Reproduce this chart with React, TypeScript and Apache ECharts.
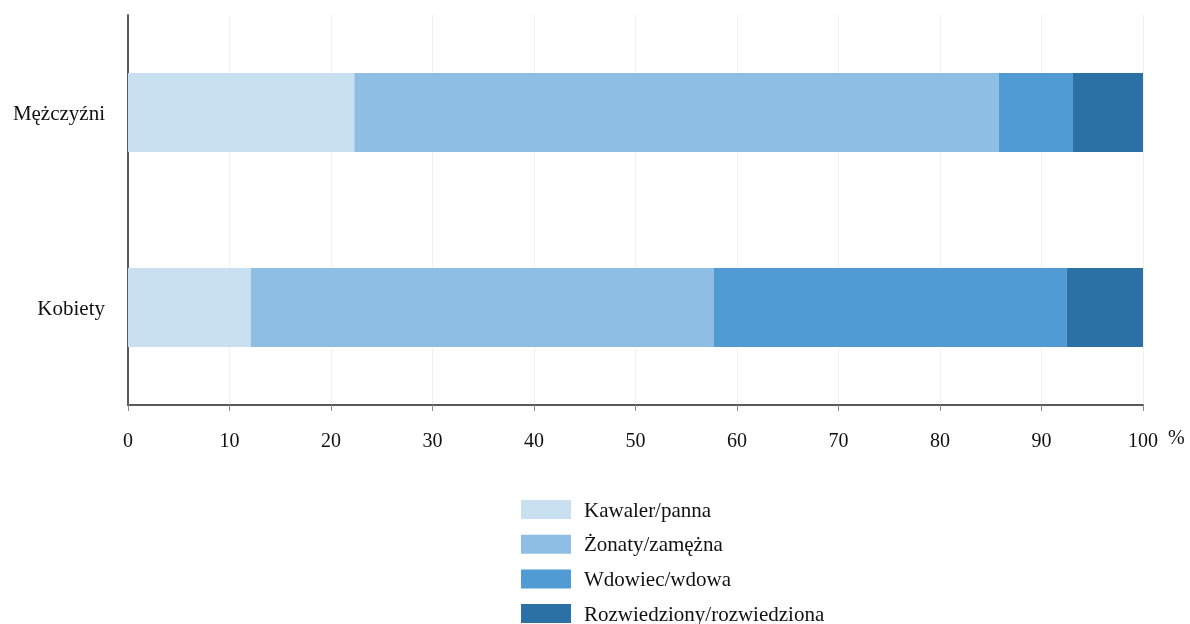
import React, { useEffect, useRef } from "react";
import * as echarts from "echarts";

const categories = ["Kobiety", "Mężczyźni"];
const seriesNames = ["Kawaler/panna", "Żonaty/zamężna", "Wdowiec/wdowa", "Rozwiedziony/rozwiedziona"];
const kawaler = [12.1, 22.3];
const zonaty = [45.6, 63.5];
const wdowiec = [34.8, 7.3];
const rozwiedziony = [7.5, 6.9];
const colors = ["#c9e0f0", "#8ebee3", "#509bd3", "#2b71a6"];
const xTicks = { min: 0, max: 100, interval: 10 };

const FONT = "'Liberation Serif', 'Times New Roman', serif";

export default function App() {
  const ref = useRef<HTMLDivElement>(null);
  useEffect(() => {
    const chart = echarts.init(ref.current!, undefined, { renderer: "svg" });
    const values = [kawaler, zonaty, wdowiec, rozwiedziony];
    chart.setOption({
      animation: false,
      grid: { left: 128, right: 47, top: 15, bottom: 219, containLabel: false },
      xAxis: {
        type: "value",
        min: xTicks.min,
        max: xTicks.max,
        interval: xTicks.interval,
        axisLine: { show: true, lineStyle: { color: "#5a5a5a", width: 2 } },
        axisTick: { show: true, length: 6, lineStyle: { color: "#8a8a8a", width: 1 } },
        axisLabel: { margin: 25, color: "#111", fontFamily: FONT, fontSize: 20 },
        splitLine: { show: true, lineStyle: { color: "#f1f1f1", width: 1 } },
      },
      yAxis: {
        type: "category",
        data: categories,
        axisLine: { show: true, lineStyle: { color: "#5a5a5a", width: 2 } },
        axisTick: { show: false },
        axisLabel: { margin: 23, color: "#111", fontFamily: FONT, fontSize: 21 },
        splitLine: { show: false },
      },
      legend: {
        orient: "vertical",
        left: 521,
        top: 499,
        height: 140,
        padding: 0,
        itemWidth: 50,
        itemHeight: 19,
        itemGap: 13.7,
        icon: "rect",
        data: seriesNames,
        textStyle: { fontFamily: FONT, fontSize: 21, color: "#111", lineHeight: 20, padding: [0, 0, 0, 8] },
      },
      graphic: [
        {
          type: "text",
          left: 1168,
          top: 427,
          style: { text: "%", font: `20px ${FONT}`, fill: "#111" },
        },
      ],
      series: seriesNames.map((name, i) => ({
        name,
        type: "bar",
        stack: "total",
        barWidth: 79,
        data: values[i],
        itemStyle: { color: colors[i] },
      })),
    });
    return () => chart.dispose();
  }, []);
  return <div ref={ref} style={{ position: "fixed", left: 0, top: 0, width: 1190, height: 624 }} />;
}
